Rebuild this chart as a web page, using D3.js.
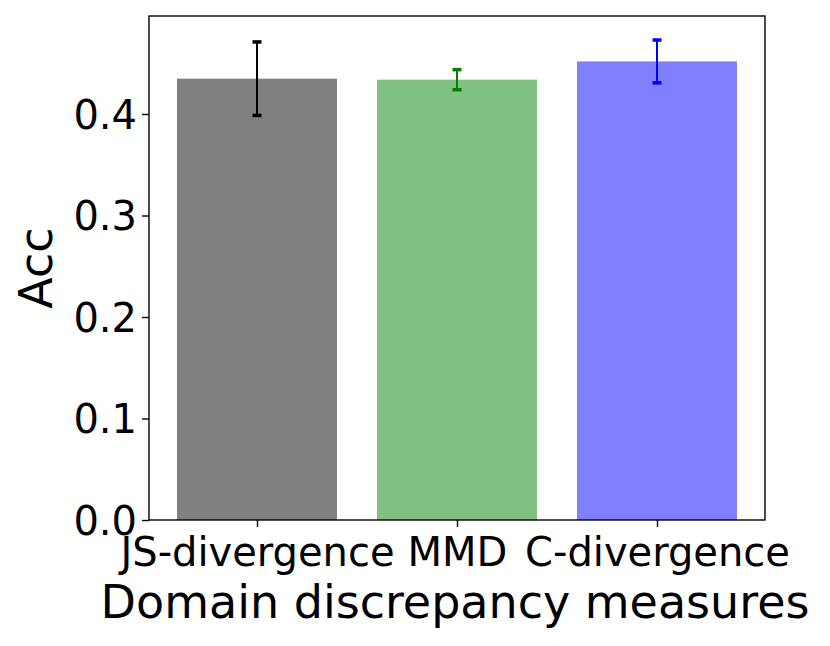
<!DOCTYPE html>
<html><head><meta charset="utf-8">
<script src="https://cdn.jsdelivr.net/npm/d3@7"></script>
<style>body{margin:0;background:#fff}svg{display:block}text{font-family:"DejaVu Sans",sans-serif;fill:#000}</style>
</head><body><svg id="c" width="830" height="646"></svg>
<script>
const categories = ["JS-divergence", "MMD", "C-divergence"];
const values = [0.4348, 0.4338, 0.4518];
const errors = [0.0362, 0.0099, 0.0211];
const barColors = ["#808080", "#80c080", "#8080ff"];
const errColors = ["#000000", "#008000", "#0000ff"];
const yTicks = [0.0, 0.1, 0.2, 0.3, 0.4];

const svg = d3.select("#c");
const m = {left:149, right:765, top:16, bottom:520};
const x = d3.scaleLinear().domain([-0.54, 2.54]).range([m.left, m.right]);
const yMax = d3.max(values.map((v,i)=>v+errors[i]))*1.05;
const y = d3.scaleLinear().domain([0, yMax]).range([m.bottom, m.top]);
const bw = 0.8;

svg.selectAll("rect.bar").data(values).enter().append("rect")
  .attr("x",(d,i)=>x(i-bw/2)).attr("width",(d,i)=>x(i+bw/2)-x(i-bw/2))
  .attr("y",d=>y(d)).attr("height",d=>y(0)-y(d))
  .attr("fill",(d,i)=>barColors[i]);

const eg = svg.selectAll("g.err").data(values).enter().append("g");
eg.append("line").attr("x1",(d,i)=>x(i)).attr("x2",(d,i)=>x(i))
  .attr("y1",(d,i)=>y(d-errors[i])).attr("y2",(d,i)=>y(d+errors[i]))
  .attr("stroke",(d,i)=>errColors[i]).attr("stroke-width",2);
[-1,1].forEach(s=>{
  eg.append("line").attr("x1",(d,i)=>x(i)-4.5).attr("x2",(d,i)=>x(i)+4.5)
    .attr("y1",(d,i)=>y(d+s*errors[i])).attr("y2",(d,i)=>y(d+s*errors[i]))
    .attr("stroke",(d,i)=>errColors[i]).attr("stroke-width",3.5);
});

svg.append("rect").attr("x",m.left).attr("y",m.top).attr("width",m.right-m.left).attr("height",m.bottom-m.top)
  .attr("fill","none").attr("stroke","#000").attr("stroke-width",1.4);

const yAxis = svg.append("g").attr("transform",`translate(${m.left},0)`)
  .call(d3.axisLeft(y).tickValues(yTicks).tickFormat(d3.format(".1f")).tickSize(7).tickPadding(5));
yAxis.select(".domain").remove();
yAxis.selectAll("line").attr("stroke-width",1.4);
yAxis.selectAll("text").style("font-size","40px").attr("dy","0.36em");

const xAxis = svg.append("g").attr("transform",`translate(0,${m.bottom})`)
  .call(d3.axisBottom(x).tickValues([0,1,2]).tickFormat(i=>categories[i]).tickSize(7).tickPadding(5));
xAxis.select(".domain").remove();
xAxis.selectAll("line").attr("stroke-width",1.4);
xAxis.selectAll("text").style("font-size","40px").attr("y",46).attr("dy",null);

svg.append("text").attr("x",455).attr("y",618).attr("text-anchor","middle")
  .style("font-size","46px").text("Domain discrepancy measures");
svg.append("text").attr("transform","translate(52,268) rotate(-90)").attr("text-anchor","middle")
  .style("font-size","46px").text("Acc");
</script></body></html>
